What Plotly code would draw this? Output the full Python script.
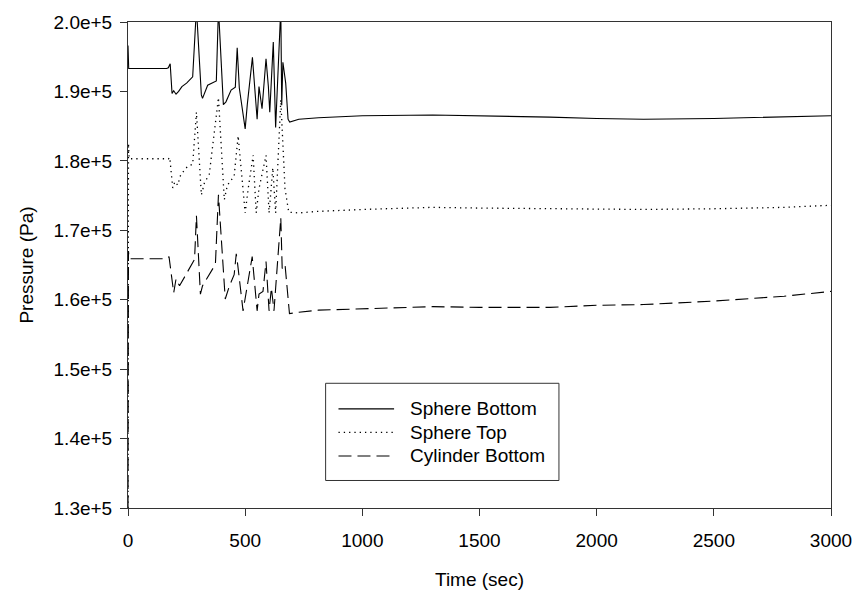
import plotly.graph_objects as go

# ---- data (pressure in units of 1e5 Pa) ----
t_sphere_bottom = [0, 3, 165, 172, 180, 188, 195, 205, 216, 230, 250, 276, 292, 313, 318, 340, 377, 386, 407, 418,
                   440, 458, 466, 475, 500, 509, 531, 542, 551, 559, 572, 589, 599, 605, 620, 630, 652, 656, 661,
                   673, 683, 690, 729, 813, 1000, 1300, 1500, 1800, 2000, 2200, 2500, 2800, 3000]
p_sphere_bottom = [1.966, 1.933, 1.933, 1.934, 1.940, 1.897, 1.901, 1.896, 1.900, 1.907, 1.912, 1.921, 2.02, 1.895,
                   1.890, 1.909, 1.915, 2.02, 1.881, 1.885, 1.902, 1.906, 1.963, 1.905, 1.846, 1.881, 1.949, 1.906,
                   1.860, 1.907, 1.875, 1.947, 1.907, 1.870, 1.971, 1.848, 2.02, 1.880, 1.942, 1.912, 1.860, 1.856,
                   1.860, 1.862, 1.865, 1.866, 1.865, 1.863, 1.861, 1.860, 1.861, 1.863, 1.865]

t_sphere_top = [0, 2, 5, 173, 178, 191, 200, 212, 225, 254, 276, 292, 313, 326, 347, 386, 411, 424, 453, 470, 500,
                513, 534, 547, 559, 589, 602, 612, 618, 630, 652, 670, 686, 729, 800, 1000, 1300, 1500, 1800, 2000,
                2200, 2500, 2800, 3000]
p_sphere_top = [1.30, 1.825, 1.803, 1.803, 1.805, 1.761, 1.770, 1.765, 1.780, 1.792, 1.795, 1.870, 1.751, 1.768,
                1.781, 1.891, 1.744, 1.765, 1.778, 1.836, 1.725, 1.760, 1.808, 1.725, 1.760, 1.808, 1.725, 1.765,
                1.790, 1.725, 1.888, 1.760, 1.726, 1.725, 1.727, 1.730, 1.733, 1.732, 1.731, 1.730, 1.730, 1.731,
                1.733, 1.736]

t_cyl_bottom = [0, 2, 5, 164, 175, 195, 205, 220, 271, 284, 292, 309, 318, 373, 386, 415, 432, 453, 462, 468, 491,
                504, 530, 551, 559, 576, 589, 602, 612, 623, 652, 658, 670, 689, 729, 813, 1000, 1300, 1500, 1800,
                2000, 2200, 2500, 2800, 3000]
p_cyl_bottom = [1.30, 1.670, 1.659, 1.659, 1.662, 1.610, 1.630, 1.620, 1.651, 1.658, 1.721, 1.608, 1.620, 1.651,
                1.751, 1.601, 1.619, 1.636, 1.666, 1.651, 1.584, 1.608, 1.662, 1.584, 1.608, 1.612, 1.655, 1.584,
                1.617, 1.584, 1.718, 1.645, 1.651, 1.580, 1.582, 1.585, 1.587, 1.590, 1.589, 1.589, 1.592, 1.593,
                1.598, 1.605, 1.612]

series_names = ["Sphere Bottom", "Sphere Top", "Cylinder Bottom"]
series_dash = ["solid", "1.3px,4px", "13px,6px"]
series_width = [1.1, 1.3, 1.1]
x_ticks = [0, 500, 1000, 1500, 2000, 2500, 3000]
y_ticks = [1.3e5, 1.4e5, 1.5e5, 1.6e5, 1.7e5, 1.8e5, 1.9e5, 2.0e5]
y_ticktext = ["1.3e+5", "1.4e+5", "1.5e+5", "1.6e+5", "1.7e+5", "1.8e+5", "1.9e+5", "2.0e+5"]

FONT = "Liberation Sans, Arial, sans-serif"

def scale(vals):
    return [v * 1e5 for v in vals]

fig = go.Figure()
for name, tt, pp, dash, w in zip(series_names,
                                 [t_sphere_bottom, t_sphere_top, t_cyl_bottom],
                                 [p_sphere_bottom, p_sphere_top, p_cyl_bottom],
                                 series_dash, series_width):
    fig.add_trace(go.Scatter(x=tt, y=scale(pp), mode="lines", name=name, showlegend=False,
                             line=dict(color="black", width=w, dash=dash)))

axis_common = dict(showgrid=False, zeroline=False, showline=True, linecolor="#333", linewidth=1,
                   mirror=True, ticks="outside", ticklen=7, tickcolor="#333", tickwidth=1,
                   tickfont=dict(family=FONT, size=19, color="black"))

fig.update_xaxes(range=[0, 3000], tickvals=x_ticks, ticklabelstandoff=8,
                 title=dict(text="Time (sec)", font=dict(family=FONT, size=19, color="black"), standoff=22),
                 **axis_common)
fig.update_yaxes(range=[1.3e5, 2.0e5], tickvals=y_ticks, ticktext=y_ticktext, ticklabelstandoff=4,
                 title=dict(text="Pressure (Pa)", font=dict(family=FONT, size=19, color="black"), standoff=14),
                 **axis_common)

# ---- legend drawn as a boxed key (paper coordinates) ----
legend_box = dict(x0=0.2811, x1=0.6130, y0=0.0566, y1=0.2566)
legend_rows_y = [0.2040, 0.1556, 0.1071]
legend_line_x = (0.2994, 0.3785)
legend_text_x = 0.3983

shapes = [dict(type="rect", xref="paper", yref="paper", line=dict(color="#333", width=1),
               fillcolor="white", layer="above", **legend_box)]
annotations = []
for name, dash, w, ry in zip(series_names, series_dash, series_width, legend_rows_y):
    shapes.append(dict(type="line", xref="paper", yref="paper", x0=legend_line_x[0], x1=legend_line_x[1],
                       y0=ry, y1=ry, line=dict(color="black", width=w, dash=dash), layer="above"))
    annotations.append(dict(text=name, xref="paper", yref="paper", x=legend_text_x, y=ry,
                            xanchor="left", yanchor="middle", showarrow=False,
                            font=dict(family=FONT, size=19, color="black")))

fig.update_layout(
    width=864, height=598,
    margin=dict(l=128, r=28, t=16, b=87),
    paper_bgcolor="white", plot_bgcolor="white",
    font=dict(family=FONT, size=19, color="black"),
    showlegend=False,
    shapes=shapes,
    annotations=annotations,
)

fig.write_html("out.html")
